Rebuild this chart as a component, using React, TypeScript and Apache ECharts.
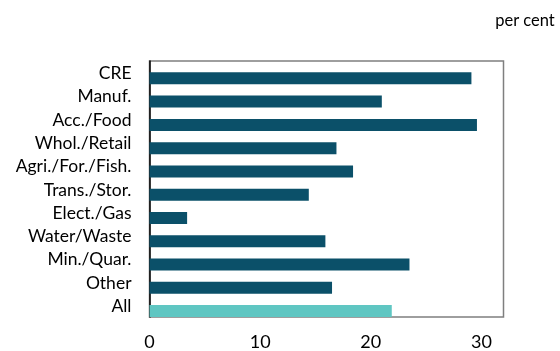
import React, { useEffect, useRef } from "react";
import * as echarts from "echarts";

const categories = [
  "CRE",
  "Manuf.",
  "Acc./Food",
  "Whol./Retail",
  "Agri./For./Fish.",
  "Trans./Stor.",
  "Elect./Gas",
  "Water/Waste",
  "Min./Quar.",
  "Other",
  "All",
];
const values = [29.1, 21.0, 29.6, 16.9, 18.4, 14.4, 3.4, 15.9, 23.5, 16.5, 21.9];
const xTicks = [0, 10, 20, 30];
const unitLabel = "per cent";

const DARK = "#0b5069";
const LIGHT = "#5fc6c2";
const FONT = "Lato";

export default function App() {
  const ref = useRef<HTMLDivElement>(null);
  useEffect(() => {
    if (!ref.current) return;
    const chart = echarts.init(ref.current, null, { renderer: "svg" });
    chart.setOption({
      animation: false,
      grid: [
        {
          left: 149.5,
          top: 61,
          width: 354,
          height: 256,
          show: true,
          borderColor: "#7f7f7f",
          borderWidth: 1.5,
          backgroundColor: "transparent",
        },
        {
          left: 149.5,
          top: 66.7,
          width: 354,
          height: 256,
        },
      ],
      xAxis: [
        {
          gridIndex: 0,
          type: "value",
          min: 0,
          max: 32,
          interval: 10,
          show: false,
        },
        {
          gridIndex: 1,
          type: "value",
          min: 0,
          max: 32,
          interval: 10,
          splitLine: { show: false },
          axisLine: { show: false },
          axisTick: { show: false },
          axisLabel: {
            color: "#000",
            fontFamily: FONT,
            fontSize: 18,
            margin: 9,
            customValues: xTicks,
          },
        },
      ],
      yAxis: [
        {
          gridIndex: 0,
          type: "category",
          data: categories,
          inverse: true,
          axisLine: { show: true, lineStyle: { color: "#000", width: 1.5 } },
          axisTick: { show: false },
          axisLabel: {
            color: "#000",
            fontFamily: FONT,
            fontSize: 17.5,
            margin: 18,
            interval: 0,
            hideOverlap: false,
          },
        },
        {
          gridIndex: 1,
          type: "category",
          data: categories,
          inverse: true,
          show: false,
        },
      ],
      series: [
        {
          type: "bar",
          xAxisIndex: 1,
          yAxisIndex: 1,
          barWidth: 12,
          data: values.map((v, i) => ({
            value: v,
            itemStyle: { color: i === values.length - 1 ? LIGHT : DARK },
          })),
          z: 1,
        },
      ],
      graphic: [
        {
          type: "text",
          right: 5,
          top: 11,
          style: {
            text: unitLabel,
            fontFamily: FONT,
            fontSize: 16.5,
            fill: "#000",
          },
        },
      ],
    });
    return () => chart.dispose();
  }, []);
  return (
    <div
      ref={ref}
      style={{ position: "fixed", left: 0, top: 0, width: 560, height: 351 }}
    />
  );
}
